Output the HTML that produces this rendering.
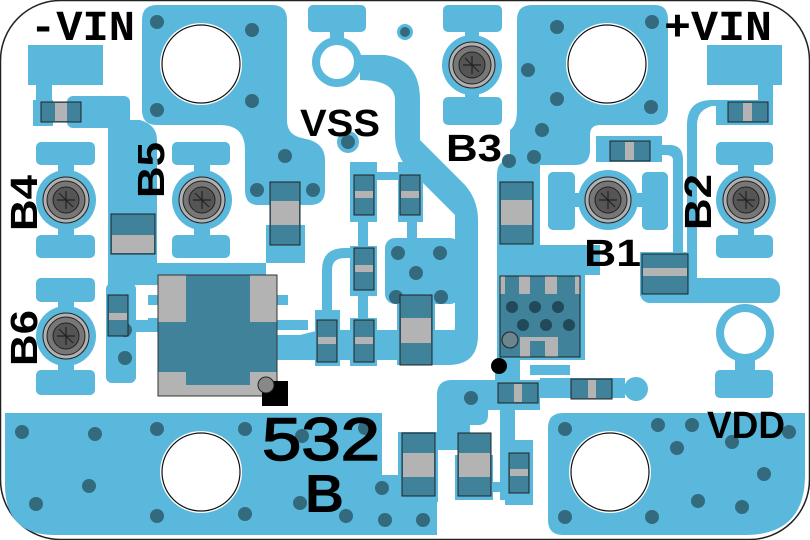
<!DOCTYPE html>
<html><head><meta charset="utf-8"><style>
html,body{margin:0;padding:0;background:#fff}
svg{display:block}
text{font-family:"Liberation Sans",sans-serif;font-weight:bold;fill:#000}
</style></head><body>
<svg width="810" height="540" viewBox="0 0 810 540" xmlns="http://www.w3.org/2000/svg">
<defs>
<g id="scr"><circle r="30" fill="#5ab8dc"/><circle r="23" fill="#b0b0b0" stroke="#222" stroke-width="1"/><circle r="19" fill="#777" stroke="#222" stroke-width="1"/><circle r="13" fill="#555" stroke="#222" stroke-width="1"/><path d="M-9 0H9M0-9V9M-7-7L7 7" stroke="#222" stroke-width="1.2" fill="none"/></g>
</defs>
<rect x="0.5" y="0.5" width="809" height="539" rx="60" fill="#fff" stroke="#222" stroke-width="1.5"/>
<g fill="#5ab8dc">
<path d="M5 413H382V475H437V535H55Q5 535 5 485Z"/>
<path d="M563 413H805V475Q805 535 745 535H563Q548 535 548 520V428Q548 413 563 413Z"/>
<path d="M157 5H272Q287 5 287 20V120Q287 135 302 138L310 140Q325 145 325 160V190Q325 205 310 205H258Q245 205 245 190V150Q245 125 220 125H157Q142 125 142 110V20Q142 5 157 5Z"/>
<path d="M532 5H655Q668 5 668 20V110Q668 125 653 125H600Q590 125 590 135V150Q590 165 575 165H540V250H497V175Q497 160 510 160V130Q517 125 517 110V20Q517 5 532 5Z"/>
<rect x="28" y="45" width="75" height="40"/><rect x="36" y="85" width="16" height="16"/>
<rect x="33" y="100" width="20" height="26"/><rect x="67" y="96" width="63" height="32" rx="6"/>
<path d="M108 120H140Q157 125 157 140V263H305V225H266V285H108Z"/>
<rect x="36" y="142" width="59" height="23" rx="5"/><rect x="36" y="235" width="59" height="23" rx="5"/>
<rect x="58" y="160" width="16" height="80"/>
<rect x="172" y="142" width="58" height="23" rx="5"/><rect x="172" y="235" width="58" height="23" rx="5"/>
<rect x="194" y="160" width="16" height="80"/>
<rect x="36" y="278" width="59" height="24" rx="5"/><rect x="36" y="370" width="59" height="25" rx="5"/>
<rect x="58" y="300" width="16" height="74"/>
<rect x="106" y="283" width="30" height="100" rx="6"/><rect x="114" y="254" width="10" height="30"/>
<rect x="130" y="320" width="30" height="12"/>
<rect x="148" y="295" width="30" height="10"/><rect x="148" y="318" width="30" height="10"/>
<rect x="258" y="295" width="30" height="10"/><rect x="258" y="320" width="50" height="10"/>
<path d="M277 335H300L320 330H460V360H277Z"/>
<rect x="308" y="5" width="58" height="27" rx="5"/><rect x="330" y="30" width="14" height="12"/>
<circle cx="337" cy="62" r="25"/>
<path d="M360 55H385Q420 60 420 100V140L465 185Q478 200 478 220V335Q478 365 448 365H430V340H445Q455 340 455 325V215L405 165Q395 152 395 135V100Q395 80 360 80Z"/>
<circle cx="348" cy="142" r="11"/>
<rect x="350" y="162" width="27" height="60"/><rect x="398" y="162" width="25" height="60"/><rect x="375" y="172" width="25" height="8"/>
<rect x="358" y="220" width="10" height="30"/><rect x="407" y="220" width="10" height="30"/>
<rect x="350" y="246" width="27" height="50"/><rect x="358" y="295" width="10" height="30"/>
<rect x="350" y="318" width="27" height="48"/><rect x="315" y="310" width="25" height="56"/>
<path d="M322 312V270Q322 248 345 248H352V258H345Q332 258 332 270V312Z"/>
<rect x="385" y="238" width="75" height="66" rx="10"/>
<rect x="397" y="295" width="38" height="70"/>
<rect x="443" y="5" width="59" height="27" rx="5"/><rect x="443" y="97" width="59" height="28" rx="5"/>
<rect x="465" y="30" width="14" height="70"/><circle cx="472" cy="65" r="29"/>
<circle cx="405" cy="32" r="8"/>
<rect x="707" y="45" width="75" height="40"/><rect x="758" y="84" width="15" height="16"/>
<rect x="716" y="100" width="57" height="25"/>
<path d="M720 106H712Q697 110 697 125V282Q697 295 684 295H640V285H687V125Q687 100 712 100H720Z"/>
<rect x="596" y="136" width="66" height="26"/>
<path d="M660 145H670Q683 145 683 160V255H673V160Q673 155 665 155H660Z"/>
<rect x="640" y="252" width="50" height="44"/>
<rect x="716" y="142" width="57" height="23" rx="5"/><rect x="716" y="235" width="57" height="23" rx="5"/>
<rect x="738" y="160" width="16" height="80"/>
<rect x="548" y="172" width="27" height="58" rx="5"/><rect x="642" y="172" width="26" height="58" rx="5"/>
<rect x="570" y="193" width="76" height="14"/>
<path d="M497 230H530V245H600V275H497Z"/>
<rect x="497" y="270" width="88" height="90"/>
<path d="M452 380H495V360H510V345H520V380H540V410H515V500H500V410H488V415Q488 425 478 425H470V450H435V535H380V475H437V395Q437 380 452 380Z"/>
<rect x="398" y="432" width="40" height="70"/><rect x="455" y="455" width="38" height="45"/>
<rect x="505" y="440" width="28" height="65"/><rect x="490" y="482" width="20" height="10"/>
<rect x="530" y="365" width="40" height="10"/><rect x="540" y="378" width="85" height="20"/>
<circle cx="636" cy="389" r="12"/>
<circle cx="745" cy="333" r="29"/><rect x="735" y="355" width="20" height="20"/>
<rect x="715" y="370" width="58" height="28" rx="5"/>
<rect x="640" y="278" width="140" height="25" rx="10"/>
</g>
<g fill="#fff">
<circle cx="337" cy="62" r="17"/><circle cx="745" cy="333" r="21"/>
<circle cx="201" cy="64" r="41"/><circle cx="607" cy="64" r="41"/>
<circle cx="201" cy="472" r="41"/><circle cx="610" cy="472" r="41"/>
</g>
<g fill="none" stroke="#111" stroke-width="1.2">
<circle cx="201" cy="64" r="39"/><circle cx="607" cy="64" r="39"/>
<circle cx="201" cy="472" r="39"/><circle cx="610" cy="472" r="39"/>
</g>
<use href="#scr" x="66" y="200"/><use href="#scr" x="202" y="200"/><use href="#scr" x="66" y="336"/>
<use href="#scr" x="472" y="65"/><use href="#scr" x="608" y="200"/><use href="#scr" x="746" y="200"/>
<g fill="#346a7e">
<circle cx="157" cy="22" r="7"/><circle cx="252" cy="30" r="7"/><circle cx="157" cy="110" r="7"/><circle cx="252" cy="101" r="7"/>
<circle cx="285" cy="156" r="7"/><circle cx="257" cy="190" r="7"/><circle cx="313" cy="190" r="7"/><circle cx="348" cy="142" r="7"/>
<circle cx="405" cy="32" r="5"/>
<circle cx="557" cy="27" r="7"/><circle cx="652" cy="22" r="7"/><circle cx="528" cy="70" r="7"/><circle cx="557" cy="99" r="7"/>
<circle cx="651" cy="107" r="7"/><circle cx="542" cy="130" r="7"/><circle cx="509" cy="161" r="7"/><circle cx="534" cy="157" r="7"/>
<circle cx="398" cy="253" r="7"/><circle cx="440" cy="253" r="7"/><circle cx="416" cy="273" r="7"/><circle cx="396" cy="297" r="7"/><circle cx="441" cy="297" r="7"/>
<circle cx="125" cy="330" r="7"/><circle cx="125" cy="358" r="7"/>
<circle cx="22" cy="432" r="7"/><circle cx="95" cy="434" r="7"/><circle cx="157" cy="429" r="7"/><circle cx="245" cy="429" r="7"/>
<circle cx="89" cy="486" r="7"/><circle cx="36" cy="504" r="7"/><circle cx="157" cy="516" r="7"/><circle cx="245" cy="514" r="7"/>
<circle cx="302" cy="436" r="7"/><circle cx="365" cy="428" r="7"/><circle cx="300" cy="503" r="7"/><circle cx="382" cy="488" r="7"/>
<circle cx="346" cy="516" r="7"/><circle cx="385" cy="520" r="7"/>
<circle cx="471" cy="398" r="7"/><circle cx="423" cy="520" r="7"/>
<circle cx="565" cy="429" r="7"/><circle cx="658" cy="425" r="7"/><circle cx="692" cy="425" r="7"/><circle cx="677" cy="448" r="7"/>
<circle cx="732" cy="442" r="7"/><circle cx="789" cy="432" r="7"/><circle cx="764" cy="474" r="7"/><circle cx="698" cy="501" r="7"/>
<circle cx="742" cy="507" r="7"/><circle cx="565" cy="517" r="7"/><circle cx="652" cy="517" r="7"/>
</g>
<rect x="158" y="275" width="119" height="121" fill="#b3b3b3" stroke="#333"/>
<path d="M186 275H250V322H277V372H250V385H186V372H158V322H186Z" fill="#3f8299"/>
<rect x="158" y="275" width="119" height="121" fill="none" stroke="#333"/>
<rect x="262" y="381" width="26" height="25" fill="#000"/>
<circle cx="266" cy="385" r="8" fill="#888" stroke="#222"/>
<rect x="500" y="276" width="80" height="81" fill="#3f8299" stroke="#222"/>
<rect x="500" y="276" width="80" height="18" fill="#b3b3b3"/>
<rect x="505" y="276" width="14" height="18" fill="#3f8299"/><rect x="530" y="276" width="15" height="18" fill="#3f8299"/><rect x="557" y="276" width="18" height="18" fill="#3f8299"/>
<rect x="520" y="337" width="38" height="20" fill="#b3b3b3"/><rect x="530" y="341" width="15" height="16" fill="#3f8299"/>
<rect x="500" y="276" width="80" height="81" fill="none" stroke="#222"/>
<g fill="#21495a"><circle cx="512" cy="307" r="6"/><circle cx="535" cy="307" r="6"/><circle cx="558" cy="307" r="6"/><circle cx="523" cy="325" r="6"/><circle cx="546" cy="325" r="6"/><circle cx="569" cy="325" r="6"/></g>
<circle cx="510" cy="340" r="8" fill="#888" fill-opacity=".6" stroke="#222"/>
<circle cx="499" cy="366" r="8" fill="#000"/>
<g stroke="#222" stroke-width="1">
<g fill="#3f8299">
<rect x="41" y="102" width="40" height="20"/><rect x="111" y="214" width="44" height="40"/>
<rect x="270" y="182" width="30" height="63"/><rect x="354" y="175" width="20" height="40"/><rect x="400" y="175" width="20" height="40"/>
<rect x="354" y="248" width="20" height="42"/><rect x="317" y="320" width="20" height="42"/><rect x="354" y="320" width="20" height="42"/>
<rect x="400" y="295" width="32" height="70"/><rect x="108" y="295" width="20" height="41"/>
<rect x="500" y="182" width="33" height="62"/><rect x="610" y="141" width="40" height="20"/><rect x="728" y="102" width="40" height="20"/>
<rect x="642" y="254" width="46" height="40"/><rect x="498" y="383" width="40" height="20"/><rect x="571" y="379" width="41" height="20"/>
<rect x="402" y="433" width="33" height="63"/><rect x="458" y="433" width="33" height="63"/><rect x="509" y="453" width="20" height="40"/>
</g>
</g>
<g fill="#b3b3b3">
<rect x="55" y="103" width="12" height="18"/><rect x="112" y="235" width="42" height="18"/>
<rect x="271" y="201" width="28" height="24"/><rect x="355" y="191" width="18" height="7"/><rect x="401" y="191" width="18" height="7"/>
<rect x="355" y="265" width="18" height="7"/><rect x="318" y="337" width="18" height="7"/><rect x="355" y="337" width="18" height="7"/>
<rect x="401" y="318" width="30" height="25"/><rect x="109" y="313" width="18" height="7"/>
<rect x="501" y="200" width="31" height="25"/><rect x="625" y="142" width="9" height="18"/><rect x="743" y="103" width="9" height="18"/>
<rect x="643" y="268" width="44" height="8"/><rect x="514" y="384" width="8" height="18"/><rect x="588" y="380" width="8" height="18"/>
<rect x="403" y="453" width="31" height="24"/><rect x="459" y="453" width="31" height="24"/><rect x="510" y="469" width="18" height="7"/>
</g>
<text x="30" y="40" font-size="43" textLength="105" lengthAdjust="spacingAndGlyphs" style="font-family:'Liberation Mono',monospace;font-weight:bold">-VIN</text>
<text x="664" y="40" font-size="43" textLength="108" lengthAdjust="spacingAndGlyphs" style="font-family:'Liberation Mono',monospace;font-weight:bold">+VIN</text>
<text x="300" y="136" font-size="38" textLength="80" lengthAdjust="spacingAndGlyphs">VSS</text>
<text x="446" y="161" font-size="38" textLength="56" lengthAdjust="spacingAndGlyphs">B3</text>
<text x="584" y="266" font-size="38" textLength="57" lengthAdjust="spacingAndGlyphs">B1</text>
<text x="707" y="438" font-size="38" textLength="78" lengthAdjust="spacingAndGlyphs">VDD</text>
<text transform="translate(37 231) rotate(-90)" font-size="38" textLength="56" lengthAdjust="spacingAndGlyphs">B4</text>
<text transform="translate(164 198) rotate(-90)" font-size="38" textLength="56" lengthAdjust="spacingAndGlyphs">B5</text>
<text transform="translate(37 366) rotate(-90)" font-size="38" textLength="56" lengthAdjust="spacingAndGlyphs">B6</text>
<text transform="translate(711 230) rotate(-90)" font-size="38" textLength="56" lengthAdjust="spacingAndGlyphs">B2</text>
<text x="262" y="460" font-size="60" textLength="118" lengthAdjust="spacingAndGlyphs" style="font-weight:normal;stroke:#000;stroke-width:1.5">532</text>
<text x="305" y="512" font-size="54">B</text>
</svg>
</body></html>
